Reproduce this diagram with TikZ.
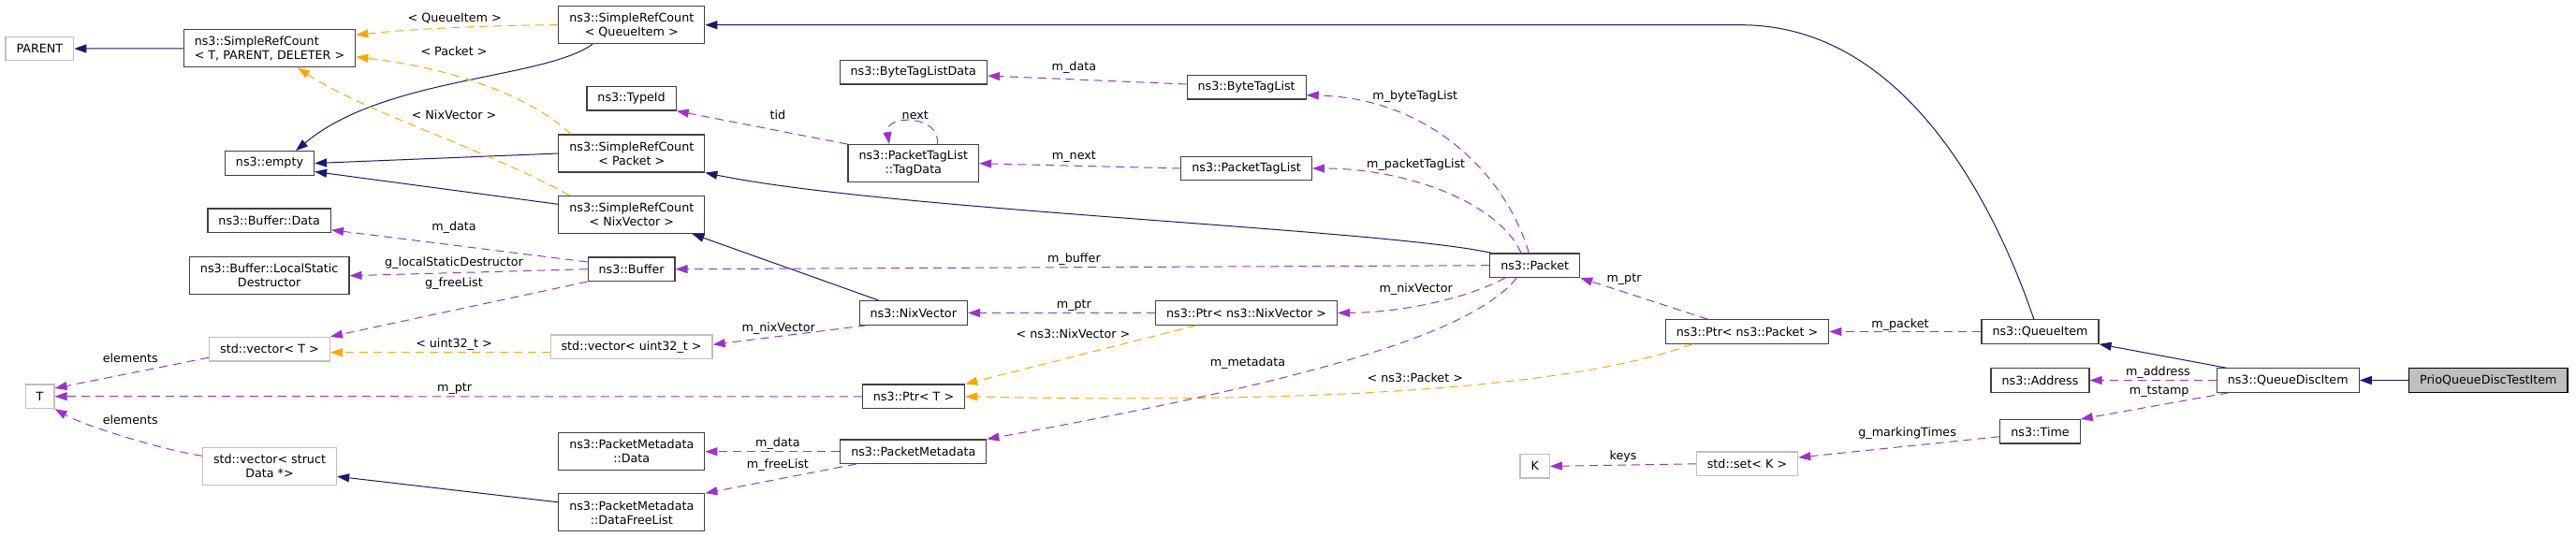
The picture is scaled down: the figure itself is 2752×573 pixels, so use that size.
\documentclass[tikz,border=0pt]{standalone}
\usepackage{fontspec}
\setmainfont{DejaVu Sans}
\usetikzlibrary{arrows.meta}
\begin{document}
\begin{tikzpicture}[x=1pt,y=-1pt,
  cls/.style={draw=boxline, line width=1.2pt, fill=white, inner xsep=11.5pt, inner ysep=2pt, minimum height=25.5pt, align=center, font=\fontsize{12.7}{15}\selectfont},
  cls2/.style={cls, minimum height=40pt},
  ext/.style={cls, draw=extline},
  ext2/.style={cls2, draw=extline},
  lbl/.style={inner sep=0pt, font=\fontsize{12.7}{15}\selectfont},
  inherit/.style={draw=inhcol, line width=1pt, -{Triangle[length=13pt,width=9pt]}},
  templ/.style={draw=tplcol, line width=1pt, dash pattern=on 9pt off 6pt, -{Triangle[length=13pt,width=9pt]}},
  usage/.style={draw=usecol, line width=1pt, dash pattern=on 9pt off 6pt, -{Triangle[length=13pt,width=9pt]}}]
\definecolor{boxline}{HTML}{404040}
\definecolor{extline}{HTML}{BFBFBF}
\definecolor{inhcol}{HTML}{191970}
\definecolor{tplcol}{HTML}{FFA500}
\definecolor{usecol}{HTML}{9A32CD}
\useasboundingbox (0,0) rectangle (2752,573);
\node[ext] (parent) at (42.4,52) {PARENT};
\node[cls2, align=left] (srcTPD) at (288,51.8) {ns3::SimpleRefCount\\< T, PARENT, DELETER >};
\node[cls] (empty) at (288,174.5) {ns3::empty};
\node[cls] (bufData) at (287.7,235.8) {ns3::Buffer::Data};
\node[cls2] (lsd) at (287.7,294.7) {ns3::Buffer::LocalStatic\\Destructor};
\node[ext] (vecT) at (288,373.2) {std::vector< T >};
\node[ext] (tT) at (42.6,423.7) {T};
\node[ext2] (vecData) at (288,498.7) {std::vector< struct\\Data *>};
\node[cls2] (srcQI) at (674.8,26.7) {ns3::SimpleRefCount\\< QueueItem >};
\node[cls] (typeId) at (674.6,105.3) {ns3::TypeId};
\node[cls2] (srcPkt) at (674.8,164) {ns3::SimpleRefCount\\< Packet >};
\node[cls2] (srcNix) at (674.8,229.3) {ns3::SimpleRefCount\\< NixVector >};
\node[cls] (buffer) at (674.6,287.7) {ns3::Buffer};
\node[ext] (vecU32) at (674.6,370.7) {std::vector< uint32\_t >};
\node[cls2] (pmData) at (674.8,482.7) {ns3::PacketMetadata\\::Data};
\node[cls2] (pmFree) at (674.8,547.8) {ns3::PacketMetadata\\::DataFreeList};
\node[cls] (btlData) at (975.8,77.3) {ns3::ByteTagListData};
\node[cls2] (tagData) at (975.8,174.7) {ns3::PacketTagList\\::TagData};
\node[cls] (nixVec) at (975.8,334.5) {ns3::NixVector};
\node[cls] (ptrT) at (976,423.8) {ns3::Ptr< T >};
\node[cls] (pktMeta) at (975.8,482.7) {ns3::PacketMetadata};
\node[cls] (btl) at (1331.6,93.3) {ns3::ByteTagList};
\node[cls] (ptl) at (1331.6,180) {ns3::PacketTagList};
\node[cls] (ptrNix) at (1331.6,334.5) {ns3::Ptr< ns3::NixVector >};
\node[cls] (packet) at (1639.7,283.7) {ns3::Packet};
\node[ext] (kK) at (1639.7,498.3) {K};
\node[cls] (ptrPkt) at (1866.5,354.5) {ns3::Ptr< ns3::Packet >};
\node[ext] (setK) at (1866.5,495.8) {std::set< K >};
\node[cls] (queueItem) at (2179.5,354.5) {ns3::QueueItem};
\node[cls] (address) at (2179.5,406.5) {ns3::Address};
\node[cls] (timeN) at (2179.5,461.3) {ns3::Time};
\node[cls] (qdItem) at (2444.2,406.5) {ns3::QueueDiscItem};
\node[cls, fill=extline, draw=black] (prio) at (2658.3,406.5) {PrioQueueDiscTestItem};
\draw[inherit] (srcTPD.west) -- (parent.east);
\draw[inherit] ([xshift=-41.8pt]srcQI.south) .. controls (580,85) and (410,82) .. ([xshift=28pt]empty.north);
\draw[inherit] (srcPkt.west) -- (empty.east);
\draw[inherit] ([yshift=11pt]srcNix.west) -- ([yshift=-9pt]empty.east);
\draw[inherit] ([xshift=-6.7pt]queueItem.north) .. controls (2135,230) and (2040,26.7) .. (1860,26.7) -- (srcQI.east);
\draw[inherit] ([xshift=2pt]packet.north west) .. controls (1480,245) and (950,225) .. (srcPkt.south east);
\draw[inherit] ([xshift=-36.8pt]nixVec.north) -- ([xshift=-14pt]srcNix.south east);
\draw[inherit] ([yshift=11pt]pmFree.west) -- ([yshift=-10.6pt]vecData.east);
\draw[inherit] ([xshift=-66pt]qdItem.north) -- (queueItem.south east);
\draw[inherit] (prio.west) -- (qdItem.east);
\draw[templ] (srcQI.west) .. controls (520,27) and (440,31) .. ([yshift=14.5pt]srcTPD.east);
\draw[templ] ([xshift=13.4pt]srcPkt.north west) .. controls (575,110) and (500,75) .. ([yshift=-9pt]srcTPD.east);
\draw[templ] ([xshift=12pt]srcNix.north west) .. controls (520,160) and (390,120) .. ([xshift=30pt]srcTPD.south);
\draw[templ] ([yshift=-6pt]vecU32.west) -- ([yshift=-3.5pt]vecT.east);
\draw[templ] ([xshift=-53.6pt]ptrNix.south) -- (ptrT.north east);
\draw[templ] ([xshift=-58.7pt]ptrPkt.south) .. controls (1680,415) and (1400,432) .. (ptrT.east);
\draw[usage] ([yshift=7.7pt]buffer.west) -- ([yshift=-10pt]bufData.east);
\draw[usage] (buffer.west) -- (lsd.east);
\draw[usage] (buffer.south west) -- (vecT.north east);
\draw[usage] ([yshift=-9pt]vecT.west) -- ([yshift=8.7pt]tT.east);
\draw[usage] (ptrT.west) -- (tT.east);
\draw[usage] ([yshift=11.4pt]vecData.west) .. controls (170,480) and (90,455) .. (tT.south east);
\draw[usage] (tagData.north west) -- (typeId.south east);
\draw[usage] ([xshift=25.6pt]tagData.north) .. controls (1005,122) and (945,122) .. ([xshift=-25.8pt]tagData.north);
\draw[usage] ([yshift=3.3pt]btl.west) -- ([yshift=-3.7pt]btlData.east);
\draw[usage] (ptl.west) -- (tagData.east);
\draw[usage] ([xshift=-6.4pt]packet.north) .. controls (1610,190) and (1530,105) .. ([yshift=-8.4pt]btl.east);
\draw[usage] ([xshift=-14.7pt]packet.north) .. controls (1600,215) and (1500,180) .. (ptl.east);
\draw[usage] (packet.west) -- (buffer.east);
\draw[usage] (ptrNix.west) -- (nixVec.east);
\draw[usage] ([xshift=8pt]nixVec.south west) -- ([yshift=2.4pt]vecU32.east);
\draw[usage] ([xshift=-31.9pt]packet.south) .. controls (1570,318) and (1500,334) .. (ptrNix.east);
\draw[usage] ([xshift=-19.4pt]packet.south) .. controls (1570,360) and (1380,410) .. (pktMeta.north east);
\draw[usage] (pktMeta.west) -- (pmData.east);
\draw[usage] ([xshift=17.4pt]pktMeta.south west) -- (pmFree.north east);
\draw[usage] ([xshift=-42.2pt]ptrPkt.north) -- (packet.south east);
\draw[usage] (queueItem.west) -- (ptrPkt.east);
\draw[usage] (qdItem.west) -- (address.east);
\draw[usage] ([xshift=13pt]qdItem.south west) -- (timeN.north east);
\draw[usage] ([yshift=-5.4pt]timeN.west) -- ([yshift=6.8pt]setK.east);
\draw[usage] (setK.west) -- (kK.east);
\node[lbl] (lQueueItem) at (485.7,19.3) {< QueueItem >};
\node[lbl] (lPacket) at (485,55) {< Packet >};
\node[lbl] (lNixVector) at (485,122.7) {< NixVector >};
\node[lbl] (lBufData) at (485,242.7) {m\_data};
\node[lbl] (lLocalStatic) at (485,280.7) {g\_localStaticDestructor};
\node[lbl] (lFreeList) at (485,303.3) {g\_freeList};
\node[lbl] (lUint) at (485,368.3) {< uint32\_t >};
\node[lbl] (lElemA) at (139.3,382.3) {elements};
\node[lbl] (lPtrT) at (485.7,415.7) {m\_ptr};
\node[lbl] (lElemB) at (139.3,448.3) {elements};
\node[lbl] (lTid) at (830.9,122.3) {tid};
\node[lbl] (lNext) at (977.8,122.7) {next};
\node[lbl] (lBtlData) at (1147.4,72.3) {m\_data};
\node[lbl] (lNextTag) at (1147.4,167.7) {m\_next};
\node[lbl] (lBuffer) at (1147.4,276.7) {m\_buffer};
\node[lbl] (lPtrNix) at (1147.4,326.7) {m\_ptr};
\node[lbl] (lTplNix) at (1146.5,356.7) {< ns3::NixVector >};
\node[lbl] (lNixVecA) at (831.8,350.7) {m\_nixVector};
\node[lbl] (lMetadata) at (1333,387.7) {m\_metadata};
\node[lbl] (lPmData) at (830.9,474.3) {m\_data};
\node[lbl] (lPmFree) at (830.9,496.7) {m\_freeList};
\node[lbl] (lByteTag) at (1511.8,102.7) {m\_byteTagList};
\node[lbl] (lPktTag) at (1512.7,175.7) {m\_packetTagList};
\node[lbl] (lNixVecB) at (1512.7,309) {m\_nixVector};
\node[lbl] (lTplPkt) at (1511.8,403.3) {< ns3::Packet >};
\node[lbl] (lPtrPkt) at (1735,299) {m\_ptr};
\node[lbl] (lPacketM) at (2030,346.7) {m\_packet};
\node[lbl] (lAddress) at (2305.4,398.3) {m\_address};
\node[lbl] (lTstamp) at (2306.7,418.3) {m\_tstamp};
\node[lbl] (lMarking) at (2037.6,462.7) {g\_markingTimes};
\node[lbl] (lKeys) at (1734,488.3) {keys};
\end{tikzpicture}
\end{document}
